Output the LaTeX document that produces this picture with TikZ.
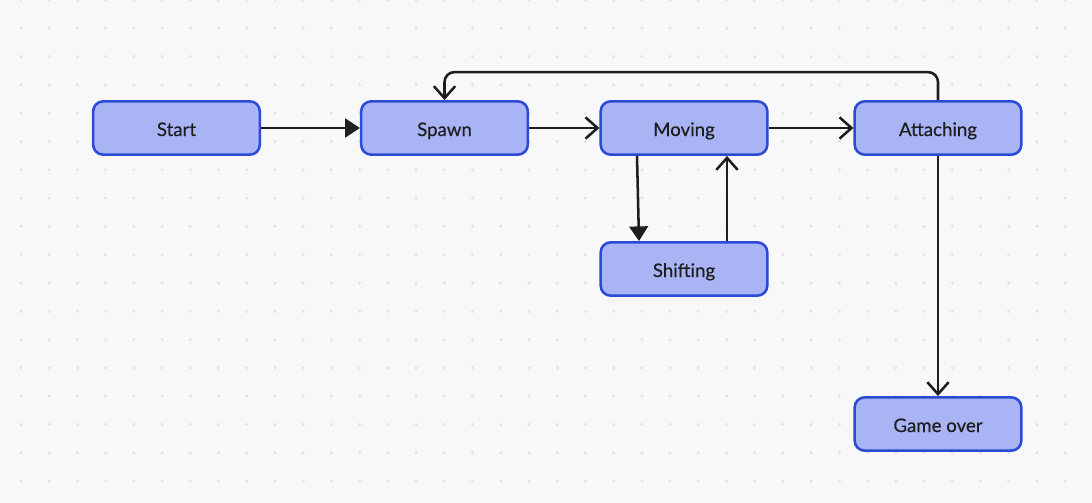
\documentclass[tikz,border=0pt]{standalone}
\usepackage{fontspec}
\setmainfont{Lato}
\newfontfamily\statefont{Lato}[FakeBold=0.4]
\usetikzlibrary{arrows.meta}
\definecolor{stfill}{HTML}{A9B4F5}
\definecolor{stline}{HTML}{2B4BD6}
\definecolor{bg}{HTML}{F8F8FA}
\definecolor{dotc}{HTML}{E2E2E7}
\definecolor{ink}{HTML}{1E1E1E}
\begin{document}
\begin{tikzpicture}[x=0.75pt,y=-0.75pt,line width=1.9pt]
        \tikzstyle{state}=[rectangle,rounded corners=7.5pt,draw=stline,fill=stfill,minimum width=125pt,minimum height=40pt,inner sep=0pt,text height=12pt,text depth=0pt,text=ink,font=\statefont\fontsize{14}{16}\selectfont]
        \tikzstyle{edge}=[draw=ink,-{Straight Barb[length=9pt,width=16pt]}]
        \tikzstyle{edgefull}=[draw=ink,-{Triangle[length=11pt,width=14pt]}]
        \fill[bg] (0,0) rectangle (1092,503);
        \useasboundingbox (0,0) rectangle (1092,503);
        % dotted grid
        \foreach \i in {0,...,37}
                \foreach \j in {0,...,17}
                        \fill[dotc] (21+28.22*\i,28.3*\j) circle (1.3pt);
        \foreach \name/\txt/\x/\y in {start/Start/176.5/128, spawn/Spawn/444.5/128, moving/Moving/684/128, attaching/Attaching/938/128, shifting/Shifting/684/269, gameover/Game over/938/424}
                \node[state] (\name) at (\x,\y) {\txt};

        \draw[edgefull] (start) -- (spawn);
        \foreach \from/\to in {spawn/moving, moving/attaching, attaching/gameover}
                \draw[edge] (\from) -- (\to);
        \draw[edgefull] ([xshift=-35.25pt]moving.south) -- ([xshift=-33.75pt]shifting.north);
        \draw[edge] ([xshift=32.25pt]shifting.north) -- ([xshift=32.25pt]moving.south);
        \draw[edge,rounded corners=7.5pt] (attaching.north) -- ++(0,-28) -| (spawn.north);
\end{tikzpicture}
\end{document}
